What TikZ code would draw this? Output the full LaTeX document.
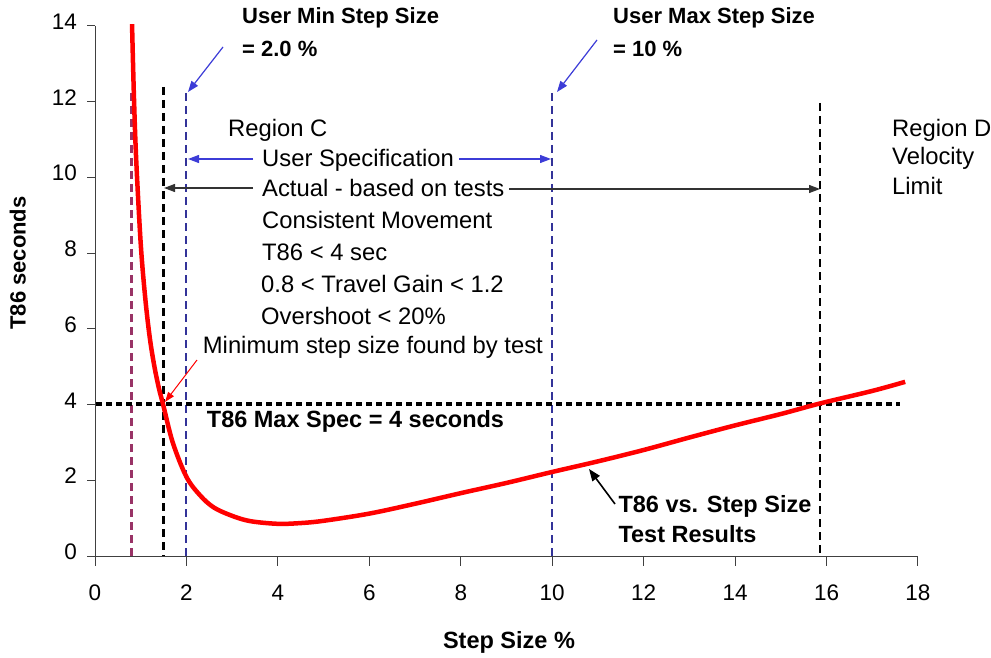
\documentclass[tikz,border=0pt]{standalone}
\usepackage{fontspec}
\setmainfont{Liberation Sans}
\usetikzlibrary{arrows.meta}
\definecolor{maroonline}{RGB}{153,51,102}
\definecolor{navyline}{RGB}{51,51,153}
\definecolor{bluearrow}{RGB}{60,60,215}
\begin{document}
\begin{tikzpicture}[x=1pt,y=-1pt,
  lbl/.style={inner sep=0pt, anchor=west, text height=0.716em, text depth=0pt, font=\fontsize{23.8}{28}\selectfont},
  blbl/.style={lbl, font=\fontsize{23.5}{28}\selectfont\bfseries},
  toplbl/.style={lbl, font=\fontsize{22}{28}\selectfont\bfseries},
  ticklbl/.style={inner sep=0pt, text height=0.716em, text depth=0pt, font=\fontsize{22.5}{24}\selectfont},
  axline/.style={line width=1pt, black!75},
  vdash/.style={dash pattern=on 8pt off 5pt},
  thickdash/.style={vdash, line width=2.7pt},
  thindash/.style={vdash, line width=2pt, navyline},
  arr/.style={line width=1.2pt, -{Triangle[length=11pt,width=8pt]}},
  bluearr/.style={arr, bluearrow},
  blackarr/.style={arr, black!80},
]
\useasboundingbox (0,0) rectangle (991,658);

% axes
\draw[axline] (95,26) -- (95,556) -- (918,556);
\foreach \k in {0,...,7} {
  \pgfmathsetmacro{\yy}{556-37.86*2*\k}
  \pgfmathtruncatemacro{\lab}{2*\k}
  \draw[axline] (87,\yy) -- (95,\yy);
  \node[ticklbl, anchor=east] (yt\k) at (77,\yy) {\lab};
}
\foreach \k in {0,...,9} {
  \pgfmathsetmacro{\xx}{95+45.72*2*\k}
  \pgfmathtruncatemacro{\lab}{2*\k}
  \draw[axline] (\xx,556) -- (\xx,566);
  \node[ticklbl] (xt\k) at (\xx,597) {\lab};
}
\node[inner sep=0pt, text height=0.716em, text depth=0pt, font=\fontsize{22}{24}\selectfont\bfseries, rotate=90] (ytitle) at (22,263) {T86 seconds};
\node[inner sep=0pt, text height=0.716em, text depth=0pt, font=\fontsize{23.5}{24}\selectfont\bfseries] (xtitle) at (509,645) {Step Size \%};

% vertical dashed lines
\coordinate (m0t) at (131.6,93);  \coordinate (m0b) at (131.6,556);
\coordinate (a1t) at (163.6,87);  \coordinate (a1b) at (163.6,556);
\coordinate (u2t) at (186.4,93);  \coordinate (u2b) at (186.4,556);
\coordinate (u10t) at (552.2,93); \coordinate (u10b) at (552.2,556);
\coordinate (a16t) at (820,103);  \coordinate (a16b) at (820,556);
\draw[thickdash, maroonline] (m0t) -- (m0b);
\draw[thickdash, black] (a1t) -- (a1b);
\draw[thindash] (u2t) -- (u2b);
\draw[thindash] (u10t) -- (u10b);
\draw[thickdash, black] (a16t) -- (a16b);

% horizontal spec line
\coordinate (hs) at (96,404); \coordinate (he) at (900,404);
\draw[black, line width=3.3pt, dash pattern=on 6pt off 4pt] (hs) -- (he);

% curve
\begin{scope}[shift={(95,556)}, x=45.72pt, y=37.86pt]
\draw[red, line width=4.5pt, line join=round] plot[smooth, tension=0.55] coordinates {
 (0.81,14.05) (0.85,12.2) (0.9,10.5) (1.0,8.25) (1.1,6.8) (1.2,5.75) (1.3,5.0) (1.4,4.42)
 (1.49,4.0) (1.7,3.0) (2.0,2.09) (2.3,1.6) (2.6,1.28) (3,1.06) (3.4,0.92) (4,0.85) (4.5,0.87)
 (5,0.93) (6,1.12) (7,1.38) (8,1.66) (9,1.93) (10,2.22) (11,2.5) (12,2.8) (13,3.13) (14,3.45)
 (15,3.75) (15.86,4.03) (17,4.36) (17.72,4.6)};
\end{scope}

% labels
\node[toplbl] (minlbl) at (242,19.5) {User Min Step Size};
\node[toplbl] (minval) at (242,53) {= 2.0 \%};
\node[toplbl] (maxlbl) at (613,20) {User Max Step Size};
\node[toplbl] (maxval) at (613,52.5) {= 10 \%};
\node[lbl] (regc) at (228,132.5) {Region C};
\node[lbl] (uspec) at (262,163) {User Specification};
\node[lbl] (actual) at (262,193) {Actual - based on tests};
\node[lbl] (consist) at (262,225) {Consistent Movement};
\node[lbl] (t86) at (262,257) {T86 < 4 sec};
\node[lbl] (gain) at (261,289) {0.8 < Travel Gain < 1.2};
\node[lbl] (over) at (261,320.5) {Overshoot < 20\%};
\node[lbl] (minfound) at (202.7,350) {Minimum step size found by test};
\node[blbl] (maxspec) at (206.7,424) {T86 Max Spec = 4 seconds};
\node[blbl] (vslbl) at (618.3,509) {T86 vs. Step Size};
\node[blbl] (testres) at (618.3,539) {Test Results};
\node[lbl] (regd) at (892,132.5) {Region D};
\node[lbl] (velo) at (892,161) {Velocity};
\node[lbl] (limit) at (892,191) {Limit};

% arrows
\coordinate (minA) at (223,47);  \coordinate (minB) at (188,92);
\coordinate (maxA) at (597,40);  \coordinate (maxB) at (557,92);
\coordinate (usL) at (253,159);  \coordinate (usLe) at (188,159);
\coordinate (usR) at (459,159);  \coordinate (usRe) at (551,159);
\coordinate (acL) at (253,188);  \coordinate (acLe) at (164,188);
\coordinate (acR) at (509,189);  \coordinate (acRe) at (820,189);
\coordinate (rfA) at (197,360);  \coordinate (rfB) at (165,402);
\coordinate (vsA) at (615,504);  \coordinate (vsB) at (589,469);
\draw[bluearr] (minA) -- (minB);
\draw[bluearr] (maxA) -- (maxB);
\draw[bluearr] (usL) -- (usLe);
\draw[bluearr] (usR) -- (usRe);
\draw[blackarr] (acL) -- (acLe);
\draw[blackarr] (acR) -- (acRe);
\draw[red, line width=1pt, -{Triangle[length=10pt,width=7pt]}] (rfA) -- (rfB);
\draw[black, line width=1.6pt, -{Triangle[length=12pt,width=9pt]}] (vsA) -- (vsB);
\end{tikzpicture}
\end{document}
